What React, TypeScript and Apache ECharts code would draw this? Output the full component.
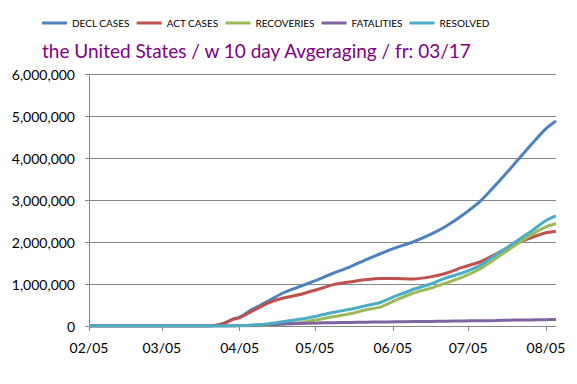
import React, { useEffect, useRef } from "react";
import * as echarts from "echarts";

// day offsets from 02/05
const days = [0, 45, 48, 50, 54, 57, 60, 64, 71, 77, 84, 91, 97, 104, 110, 116, 122, 129, 136, 142, 149, 156, 162, 169, 176, 182, 186];

const declCases = [0, 0, 0, 0.01, 0.07, 0.16, 0.21, 0.36, 0.58, 0.78, 0.94, 1.1, 1.25, 1.41, 1.57, 1.72, 1.86, 2.0, 2.18, 2.37, 2.65, 2.98, 3.36, 3.83, 4.31, 4.7, 4.88];
const actCases = [0, 0, 0, 0.01, 0.07, 0.15, 0.2, 0.32, 0.54, 0.66, 0.75, 0.87, 0.98, 1.05, 1.1, 1.13, 1.13, 1.12, 1.17, 1.25, 1.4, 1.53, 1.71, 1.93, 2.1, 2.22, 2.25];
const recoveries = [0, 0, 0, 0, 0, 0, 0, 0, 0.02, 0.05, 0.08, 0.15, 0.22, 0.29, 0.38, 0.45, 0.61, 0.78, 0.9, 1.02, 1.17, 1.37, 1.61, 1.89, 2.17, 2.36, 2.44];
const fatalities = [0, 0, 0, 0, 0, 0, 0.01, 0.015, 0.03, 0.045, 0.06, 0.07, 0.08, 0.085, 0.09, 0.095, 0.1, 0.105, 0.11, 0.115, 0.12, 0.125, 0.13, 0.14, 0.145, 0.15, 0.155];
const resolved = [0, 0, 0, 0, 0, 0, 0.01, 0.02, 0.05, 0.1, 0.16, 0.24, 0.32, 0.4, 0.48, 0.56, 0.71, 0.87, 1.0, 1.14, 1.27, 1.45, 1.69, 1.97, 2.25, 2.51, 2.62];

const seriesNames = ["DECL CASES", "ACT CASES", "RECOVERIES", "FATALITIES", "RESOLVED"];
const seriesColors = ["#4F81BD", "#C0504D", "#9BBB59", "#8064A2", "#4BACC6"];
const seriesValues = [declCases, actCases, recoveries, fatalities, resolved];

const xTickDays = [0, 29, 60, 90, 121, 151, 182];
const xTickLabels = ["02/05", "03/05", "04/05", "05/05", "06/05", "07/05", "08/05"];

const titleText = "the United States / w 10 day Avgeraging / fr: 03/17";
const FONT = "Lato";

export default function App() {
  const ref = useRef<HTMLDivElement>(null);
  useEffect(() => {
    document.body.style.margin = "0";
    const chart = echarts.init(ref.current!, null, { renderer: "svg" });
    chart.setOption({
      animation: false,
      backgroundColor: "#ffffff",
      title: {
        text: titleText,
        left: 37,
        top: 36,
        textStyle: { color: "#800080", fontSize: 19, fontWeight: "normal", fontFamily: FONT },
      },
      legend: {
        left: 37,
        top: 13,
        icon: "rect",
        itemWidth: 25,
        itemHeight: 3,
        itemGap: 7,
        textStyle: { fontSize: 10, color: "#000", fontFamily: FONT },
        data: seriesNames,
      },
      grid: { left: 89, right: 21, top: 74, bottom: 58, containLabel: false },
      xAxis: {
        type: "value",
        min: 0,
        max: 186,
        splitLine: { show: false },
        axisLine: { lineStyle: { color: "#868686", width: 1 } },
        axisTick: { show: true, length: 5, customValues: xTickDays, lineStyle: { color: "#868686" } },
        axisLabel: {
          customValues: xTickDays,
          formatter: (v: number) => xTickLabels[xTickDays.indexOf(Math.round(v))] ?? "",
          color: "#000",
          fontSize: 14,
          fontFamily: FONT,
          margin: 14,
        },
      },
      yAxis: {
        type: "value",
        min: 0,
        max: 6000000,
        interval: 1000000,
        axisLine: { show: true, lineStyle: { color: "#868686", width: 1 } },
        axisTick: { show: true, length: 4, lineStyle: { color: "#868686" } },
        splitLine: { lineStyle: { color: "#868686", width: 1 } },
        axisLabel: {
          formatter: (v: number) => v.toLocaleString("en-US"),
          color: "#000",
          fontSize: 14,
          fontFamily: FONT,
          margin: 14,
        },
      },
      series: seriesNames.map((name, i) => ({
        name,
        type: "line",
        symbol: "none",
        smooth: 0.2,
        color: seriesColors[i],
        lineStyle: { width: 3, color: seriesColors[i] },
        data: days.map((d, j) => [d, Math.round(seriesValues[i][j] * 1000000)]),
      })),
    });
    return () => chart.dispose();
  }, []);
  return <div ref={ref} style={{ position: "fixed", left: 0, top: 0, width: 577, height: 384 }} />;
}
